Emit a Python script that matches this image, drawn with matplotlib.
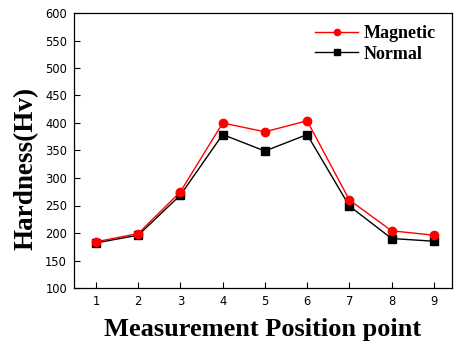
import matplotlib
matplotlib.use('Agg')
import matplotlib.pyplot as plt

# measured hardness along the sample
points = [1, 2, 3, 4, 5, 6, 7, 8, 9]
magnetic = [184, 199, 275, 400, 384, 404, 260, 204, 196]
normal = [182, 196, 269, 379, 349, 379, 249, 190, 185]

fig = plt.figure(figsize=(4.6, 3.43), dpi=100)
ax = fig.add_axes([74/460, 1-288/343, (452-74)/460, (288-13)/343])

ax.plot(points, magnetic, '-o', color='red', lw=1, ms=6, label='Magnetic', zorder=3)
ax.plot(points, normal, '-s', color='black', lw=1, ms=5.5, label='Normal', zorder=2)

ax.set_xlim(0.48, 9.43)
ax.set_ylim(100, 600)
ax.set_xticks(points)
ax.set_yticks(range(100, 601, 50))
ax.tick_params(direction='in', labelsize=8.3, length=4, width=0.8, pad=5)
for s in ax.spines.values():
    s.set_linewidth(0.9)

ax.set_xlabel('Measurement Position point', family='Liberation Serif',
              fontweight='bold', fontsize=19, labelpad=7)
ax.set_ylabel('Hardness(Hv)', family='Liberation Serif',
              fontweight='bold', fontsize=19.5)
ax.yaxis.set_label_coords(-0.093, 0.436)

ax.legend(loc='upper right', bbox_to_anchor=(1.0, 1.015), frameon=False,
          prop={'family': 'Liberation Serif', 'weight': 'bold', 'size': 13},
          handlelength=2.4, handletextpad=0.3, labelspacing=0.2,
          markerscale=0.75)

plt.savefig('out.png', dpi=100)
